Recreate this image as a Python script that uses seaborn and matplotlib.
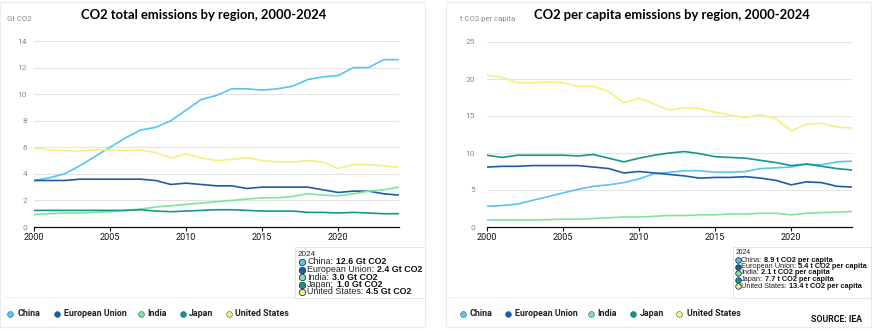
import numpy as np
import pandas as pd
import seaborn as sns
import matplotlib
matplotlib.use("Agg")
import matplotlib.pyplot as plt
from matplotlib.patches import Rectangle
from matplotlib.lines import Line2D

years = list(range(2000, 2025))
regions = ["China", "European Union", "India", "Japan", "United States"]
colors = ["#55c6ee", "#1f5ca6", "#7ee39d", "#15978a", "#f6f07c"]

# Total emissions, Gt CO2
total_china = [3.5, 3.7, 4.0, 4.6, 5.3, 6.0, 6.7, 7.3, 7.5, 8.0, 8.8, 9.6, 9.9, 10.4, 10.4, 10.3, 10.4, 10.6, 11.1, 11.3, 11.4, 12.0, 12.0, 12.6, 12.6]
total_eu = [3.5, 3.5, 3.5, 3.6, 3.6, 3.6, 3.6, 3.6, 3.5, 3.2, 3.3, 3.2, 3.1, 3.1, 2.9, 3.0, 3.0, 3.0, 3.0, 2.8, 2.6, 2.7, 2.7, 2.5, 2.4]
total_india = [0.95, 1.0, 1.05, 1.05, 1.1, 1.15, 1.25, 1.35, 1.5, 1.6, 1.7, 1.8, 1.9, 2.0, 2.1, 2.2, 2.2, 2.3, 2.5, 2.4, 2.35, 2.5, 2.7, 2.8, 3.0]
total_japan = [1.25, 1.25, 1.25, 1.25, 1.25, 1.25, 1.25, 1.3, 1.2, 1.15, 1.2, 1.25, 1.3, 1.3, 1.25, 1.2, 1.2, 1.2, 1.1, 1.1, 1.05, 1.1, 1.05, 1.0, 1.0]
total_us = [5.95, 5.8, 5.75, 5.7, 5.8, 5.8, 5.75, 5.8, 5.6, 5.2, 5.5, 5.2, 5.0, 5.1, 5.2, 5.0, 4.9, 4.9, 5.0, 4.9, 4.4, 4.7, 4.7, 4.6, 4.5]

# Per capita emissions, t CO2 per capita
pc_china = [2.8, 2.9, 3.1, 3.6, 4.1, 4.6, 5.1, 5.5, 5.7, 6.0, 6.5, 7.2, 7.4, 7.6, 7.6, 7.4, 7.4, 7.5, 7.9, 8.0, 8.1, 8.5, 8.4, 8.8, 8.9]
pc_eu = [8.1, 8.2, 8.2, 8.3, 8.3, 8.3, 8.3, 8.1, 7.9, 7.3, 7.5, 7.3, 7.1, 6.9, 6.6, 6.7, 6.7, 6.8, 6.6, 6.3, 5.7, 6.1, 6.0, 5.5, 5.4]
pc_india = [0.95, 0.95, 0.95, 0.95, 1.0, 1.05, 1.05, 1.15, 1.25, 1.35, 1.35, 1.45, 1.55, 1.55, 1.65, 1.65, 1.75, 1.75, 1.85, 1.85, 1.65, 1.85, 1.95, 2.0, 2.1]
pc_japan = [9.7, 9.4, 9.7, 9.7, 9.7, 9.7, 9.6, 9.8, 9.3, 8.8, 9.3, 9.7, 10.0, 10.2, 9.9, 9.5, 9.4, 9.3, 9.0, 8.7, 8.3, 8.5, 8.2, 7.9, 7.7]
pc_us = [20.5, 20.2, 19.5, 19.5, 19.6, 19.5, 19.0, 19.0, 18.3, 16.8, 17.4, 16.6, 15.8, 16.1, 16.0, 15.5, 15.1, 14.8, 15.2, 14.6, 13.0, 13.9, 14.0, 13.5, 13.4]

total_2024_labels = ["12.6 Gt CO2", "2.4 Gt CO2", "3.0 Gt CO2", "1.0 Gt CO2", "4.5 Gt CO2"]
pc_2024_labels = ["8.9 t CO2 per capita", "5.4 t CO2 per capita", "2.1 t CO2 per capita",
                  "7.7 t CO2 per capita", "13.4 t CO2 per capita"]

def long_df(series):
    rows = []
    for reg, vals in zip(regions, series):
        for y, v in zip(years, vals):
            rows.append((y, reg, v))
    return pd.DataFrame(rows, columns=["year", "region", "value"])

df_total = long_df([total_china, total_eu, total_india, total_japan, total_us])
df_pc = long_df([pc_china, pc_eu, pc_india, pc_japan, pc_us])

sns.set_theme(style="white")
plt.rcParams["font.family"] = ["Roboto", "DejaVu Sans"]
TIP_FONT = ["Liberation Sans", "DejaVu Sans"]

W, H = 872, 330
fig = plt.figure(figsize=(W / 100, H / 100), dpi=100)
fig.patch.set_facecolor("white")

def fx(px):
    return px / W

def fy(py):
    return 1 - py / H

# panel frames
for x0, x1 in [(0, 425), (446, 871)]:
    fig.patches.append(Rectangle((fx(x0), fy(327)), fx(x1 - x0), (327 - 2) / H,
                                 transform=fig.transFigure, fill=False,
                                 edgecolor="#ececec", linewidth=0.8, zorder=0))
    fig.add_artist(Line2D([fx(x0 + 4), fx(x1 - 4)], [fy(297), fy(297)],
                          transform=fig.transFigure, color="#eeeeee", linewidth=0.7))

def make_axes(left_px, right_px, top_px, bottom_px, df, ymax, ystep, title, unit,
              title_x, unit_x, ypad):
    ax = fig.add_axes([fx(left_px), fy(bottom_px), fx(right_px - left_px), (bottom_px - top_px) / H])
    sns.lineplot(data=df, x="year", y="value", hue="region", hue_order=regions,
                 palette=colors, linewidth=1.2, ax=ax, legend=False)
    ax.set_xlim(2000, 2024)
    ax.set_ylim(0, ymax)
    ax.set_yticks(np.arange(0, ymax + 0.1, ystep))
    ax.set_xticks([2000, 2005, 2010, 2015, 2020])
    ax.set_xlabel("")
    ax.set_ylabel("")
    for s in ["top", "right", "left"]:
        ax.spines[s].set_visible(False)
    ax.spines["bottom"].set_color("#111111")
    ax.spines["bottom"].set_linewidth(0.9)
    ax.grid(axis="y", color="#e3e3e3", linewidth=0.8)
    ax.set_axisbelow(True)
    ax.tick_params(axis="y", length=0, labelsize=6, labelcolor="#8a8a8a", pad=ypad)
    ax.tick_params(axis="x", length=3, width=0.8, color="#111111", direction="out",
                   labelsize=6.5, labelcolor="#111111", pad=1.5, bottom=True)
    ax.set_facecolor("none")
    fig.text(fx(title_x), fy(15), title, ha="center", va="center", fontsize=9.4,
             fontweight="bold", family=["Lato", "DejaVu Sans"], color="black")
    fig.text(fx(unit_x), fy(19), unit, ha="left", va="center", fontsize=5.6, color="#8a8a8a")
    return ax

ax1 = make_axes(34, 399, 41, 227, df_total, 14, 2,
                "CO2 total emissions by region, 2000-2024", "Gt CO2", 204, 7, 5)
ax2 = make_axes(487, 852, 42, 227, df_pc, 25, 5,
                "CO2 per capita emissions by region, 2000-2024", "t CO2 per capita", 672, 460, 8.5)

# bottom legends
def bottom_legend(x_positions, y_px):
    for (mx, tx), reg, col in zip(x_positions, regions, colors):
        fig.add_artist(Line2D([fx(mx)], [fy(y_px)], marker="o", markersize=4.2,
                              markerfacecolor=col, markeredgecolor="#2f5f7f",
                              markeredgewidth=0.4, linestyle="none",
                              transform=fig.transFigure))
        fig.text(fx(tx), fy(y_px), reg, ha="left", va="center", fontsize=6.4,
                 fontweight="bold", color="#222222")

bottom_legend([(10, 18), (57, 64), (141, 147), (183, 189), (229, 235)], 314)
bottom_legend([(463, 470), (508, 515), (591, 597), (633, 640), (679, 687)], 314)

fig.text(fx(862), fy(319), "SOURCE: IEA", ha="right", va="center", fontsize=6.3,
         fontweight="bold", color="#111111")

# tooltip boxes (2024 values)
fig.canvas.draw()
renderer = fig.canvas.get_renderer()

def text_width(s, fs, weight):
    t = fig.text(0, 0, s, fontsize=fs, fontweight=weight, family=TIP_FONT)
    w = t.get_window_extent(renderer=renderer).width
    t.remove()
    return w

def space_width(fs):
    return text_width("n n", fs, "normal") - text_width("nn", fs, "normal")

def tooltip(x0, x1, y0, y1, labels, year_y, first_y, step, ms, mx, tx, target_w):
    # fit font size so the widest row spans target_w pixels
    widths = [text_width(r + ":", 10, "normal") + space_width(10) + text_width(l, 10, "bold")
              for r, l in zip(regions, labels)]
    fs = 10 * target_w / max(widths)
    sp = space_width(fs)
    fig.patches.append(Rectangle((fx(x0), fy(y1)), fx(x1 - x0), (y1 - y0) / H,
                                 transform=fig.transFigure, facecolor="white",
                                 edgecolor="#e6e6e6", linewidth=0.7, zorder=5))
    fig.text(fx(x0 + 3), fy(year_y), "2024", ha="left", va="center",
             fontsize=fs * 0.92, color="#222222", zorder=6, family=TIP_FONT)
    for i, (reg, col, lab) in enumerate(zip(regions, colors, labels)):
        yy = first_y + i * step
        fig.add_artist(Line2D([fx(mx)], [fy(yy)], marker="o", markersize=ms,
                              markerfacecolor=col, markeredgecolor="#1b3550",
                              markeredgewidth=0.6, linestyle="none",
                              transform=fig.transFigure, zorder=6))
        wn = text_width(reg + ":", fs, "normal")
        fig.text(fx(tx), fy(yy), reg + ":", ha="left", va="center",
                 fontsize=fs, color="#222222", zorder=6, family=TIP_FONT)
        fig.text(fx(tx + wn + sp), fy(yy), lab, ha="left", va="center", fontsize=fs,
                 fontweight="bold", color="#111111", zorder=6, family=TIP_FONT)

tooltip(295, 425, 247, 298, total_2024_labels, 254, 262, 7.5, 4.6, 302, 307, 115)
tooltip(733, 871, 247, 298, pc_2024_labels, 253, 260, 6.5, 4.0, 737.5, 741, 126)

fig.savefig("out.png", dpi=100)
